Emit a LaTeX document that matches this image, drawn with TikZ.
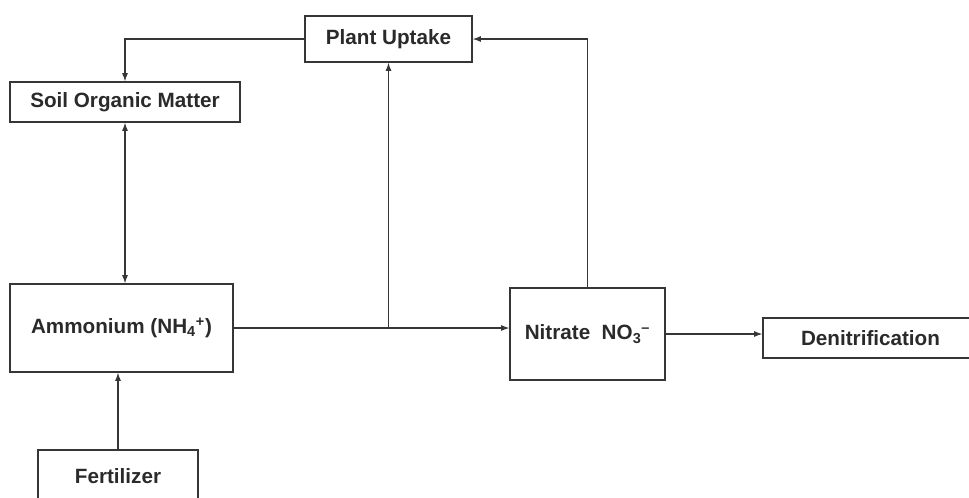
\documentclass[tikz,border=0pt]{standalone}
\usepackage{fontspec}
\setmainfont{Liberation Sans}
\usepackage{tikz}
\usetikzlibrary{arrows.meta,calc}
\definecolor{linie}{HTML}{363636}
\definecolor{schrift}{HTML}{2A2A2A}
\tikzset{
  box/.style={draw=linie,line width=0.9pt,fill=white,text=schrift,
    font=\fontsize{15.5}{18}\selectfont\bfseries,inner sep=2pt},
  flow/.style={-{Latex[length=2.2mm,width=1.6mm]},linie,line width=0.9pt},
  flowb/.style={{Latex[length=2.2mm,width=1.6mm]}-{Latex[length=2.2mm,width=1.6mm]},linie,line width=0.9pt},
}
\newcommand{\ionx}[2]{\textsubscript{#1}\textsuperscript{#2}}

\begin{document}
\begin{tikzpicture}[x=0.75pt,y=-0.75pt]
  \clip (0,0) rectangle (969,497);
  \fill[white] (0,0) rectangle (969,497);
  % boxes
  \node[box,minimum width=125.25pt,minimum height=34.5pt] (uptake) at (388.5,39) {Plant Uptake};
  \node[box,minimum width=172.5pt,minimum height=30pt] (som) at (125,102) {Soil Organic Matter};
  \node[box,minimum width=167.25pt,minimum height=66pt] (ammon) at (121.5,328) {Ammonium (NH\ionx{4}{+})};
  \node[box,minimum width=120pt,minimum height=39pt] (fert) at (118,476) {Fertilizer};
  \node[box,minimum width=116.25pt,minimum height=69pt] (nitrate) at (587.5,334) {Nitrate\ \ NO\ionx{3}{--}};
  \node[box,minimum width=161.25pt,minimum height=30pt] (denit) at (870.5,338) {Denitrification};
  % connectors
  \draw[flow] (uptake.west) -| (som.north);
  \draw[flowb] (som.south) -- (som.south |- ammon.north);
  \draw[flow] (fert.north) -- (fert.north |- ammon.south);
  \draw[flow] (ammon.east) -- (ammon.east -| nitrate.west);
  \coordinate (ast) at (uptake.south |- ammon.east);
  \draw[flow] (ast) -- (uptake.south);
  \draw[flow] (nitrate.north) |- (uptake.east);
  \draw[flow] (nitrate.east) -- (nitrate.east -| denit.west);
\end{tikzpicture}
\end{document}
